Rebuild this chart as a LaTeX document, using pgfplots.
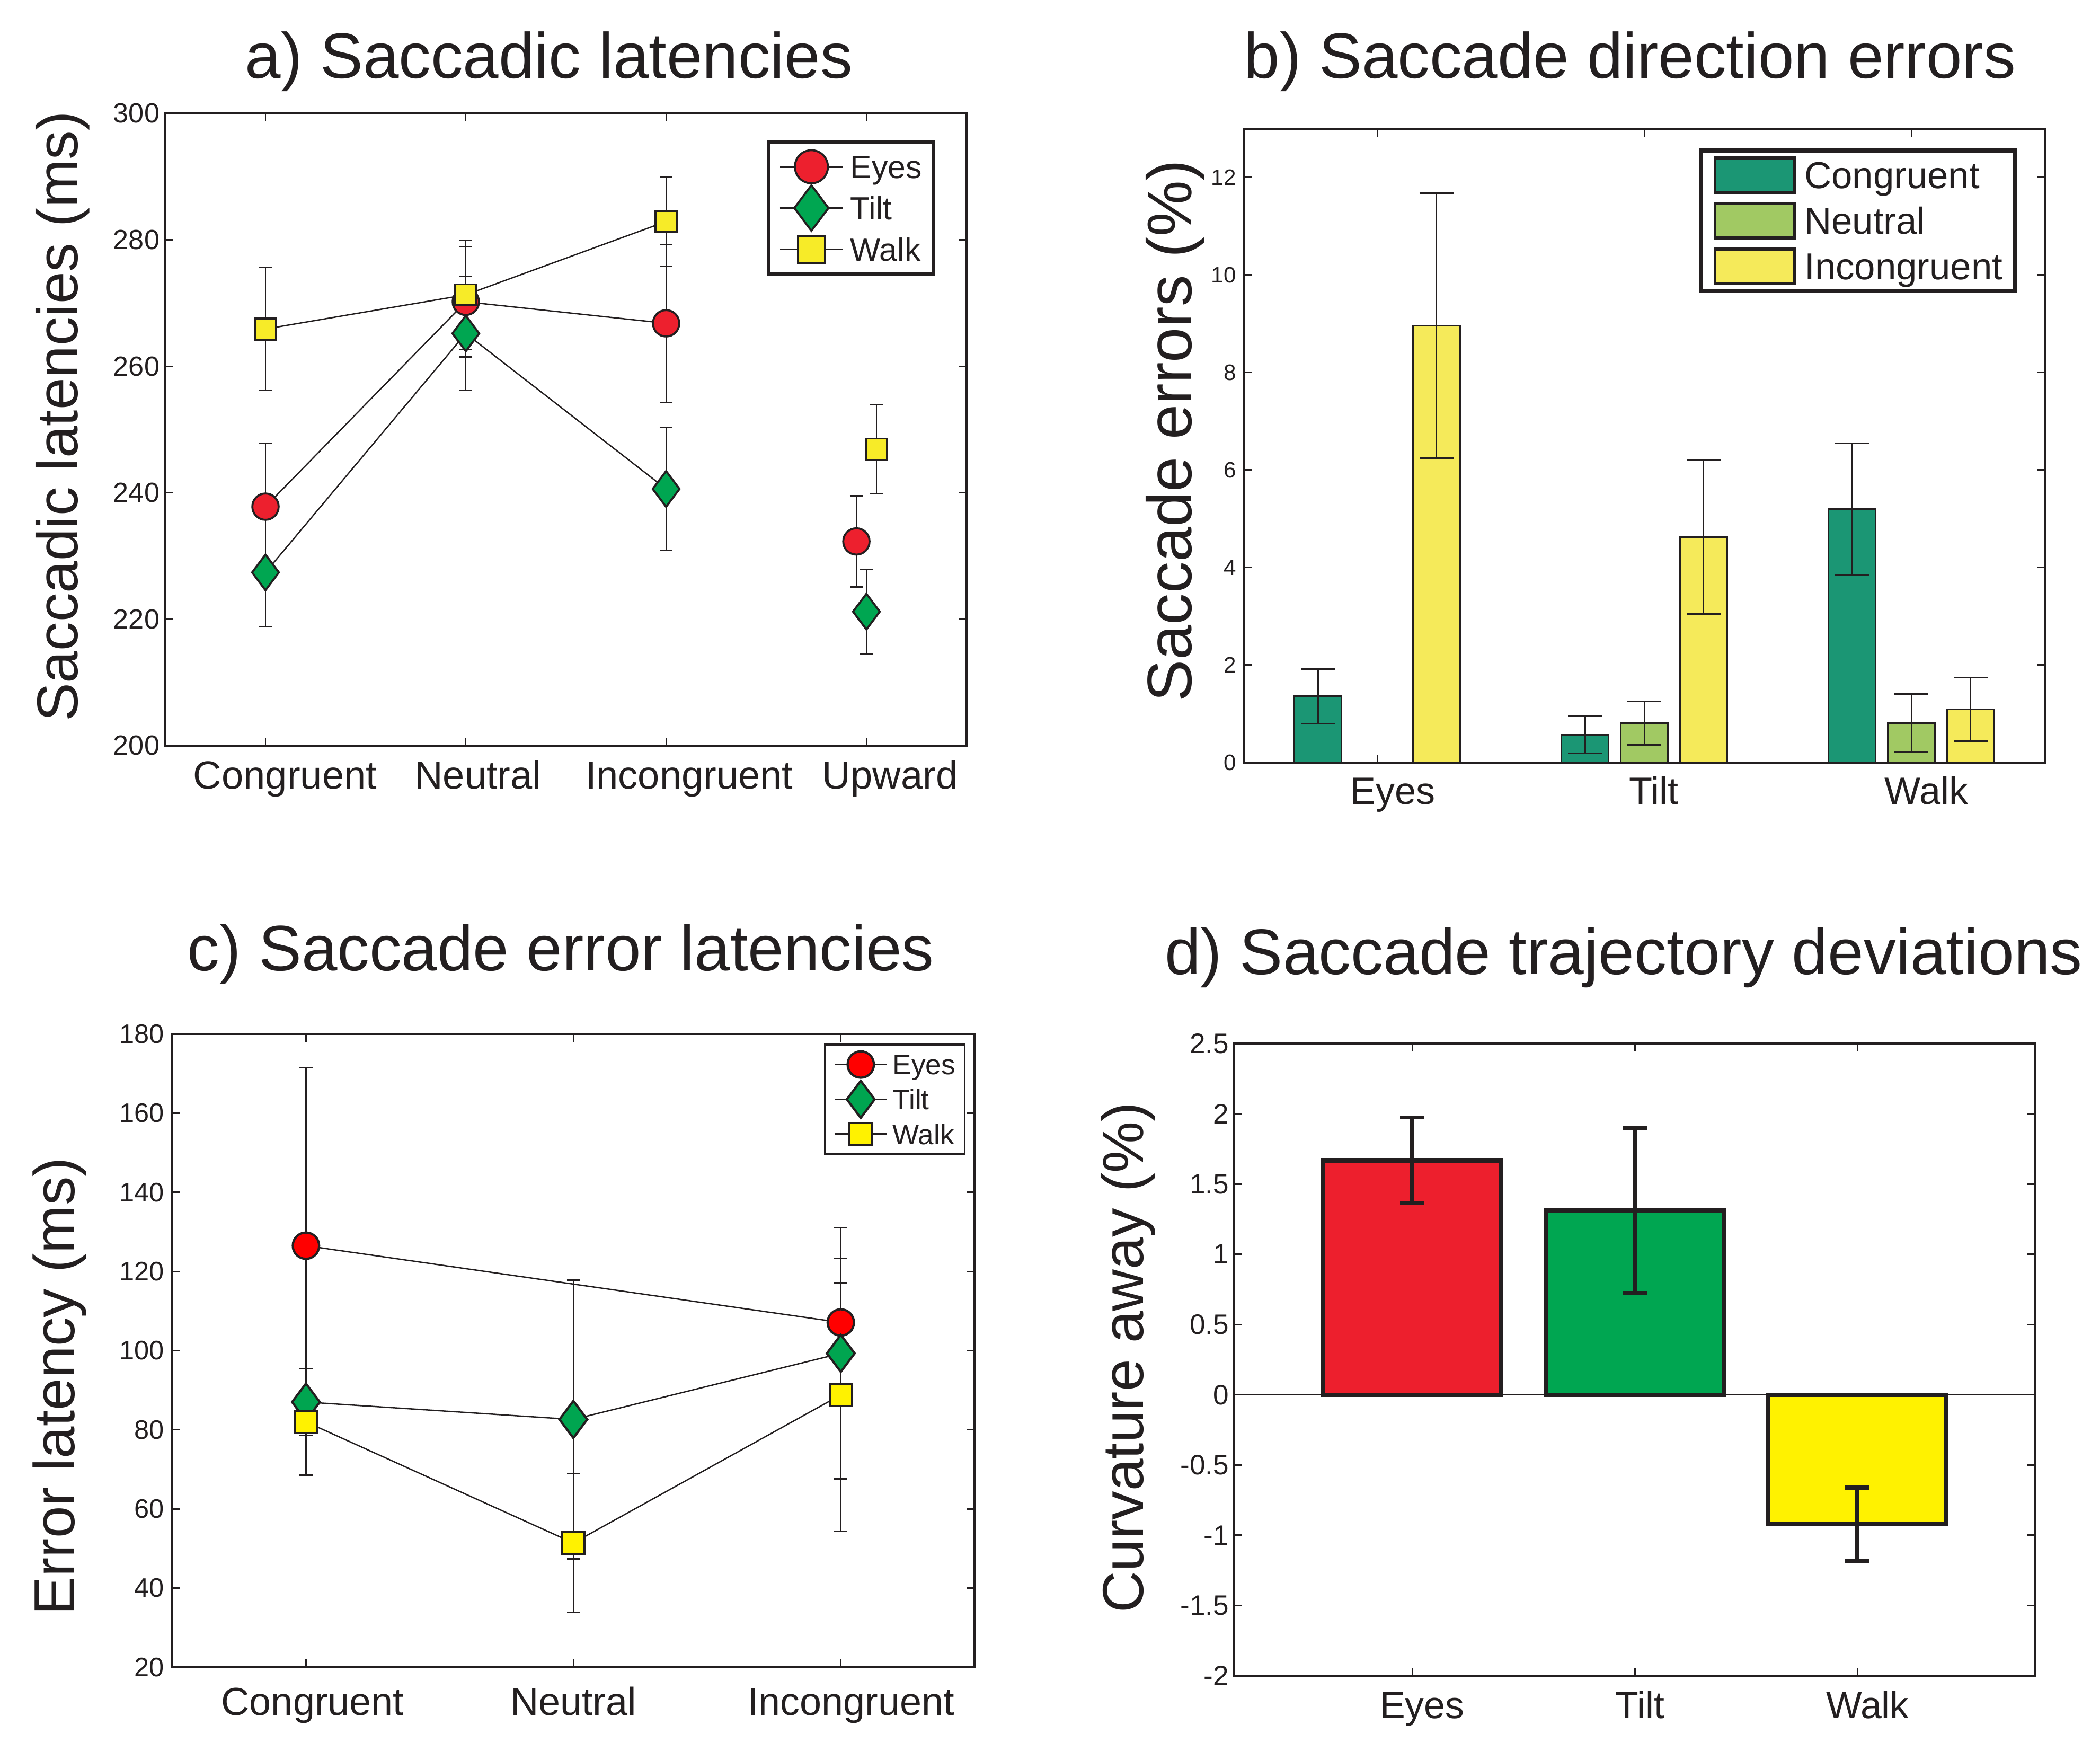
\documentclass[border=0pt]{standalone}
\usepackage{fontspec}
\setmainfont{Liberation Sans}
\usepackage{pgfplots}
\pgfplotsset{compat=1.18}

\definecolor{txt}{RGB}{35,31,32}
\definecolor{aRed}{RGB}{237,32,46}
\definecolor{aGreen}{RGB}{0,166,81}
\definecolor{aYellow}{RGB}{247,235,40}
\definecolor{cRed}{RGB}{255,0,0}
\definecolor{cGreen}{RGB}{0,165,80}
\definecolor{cYellow}{RGB}{255,242,0}
\definecolor{bCong}{RGB}{27,150,116}
\definecolor{bNeut}{RGB}{161,201,99}
\definecolor{bInc}{RGB}{245,234,90}
\definecolor{dRed}{RGB}{237,31,45}
\definecolor{dGreen}{RGB}{0,166,81}
\definecolor{dYellow}{RGB}{255,242,0}

\pgfplotsset{
  myaxis/.style={
    scale only axis, anchor=south west,
    axis line style={line width=0.4pt, txt},
    every tick/.style={txt, line width=0.35pt},
    major tick length=1.8pt,
    tick align=inside,
    minor tick num=0,
    /pgf/number format/assume math mode=true,
    yticklabel style={anchor=east, inner sep=0pt, text=txt},
    xticklabel style={anchor=base, inner sep=0pt, text=txt},
  },
  legA/.style={legend image code/.code={\draw[mark repeat=2, mark phase=2, ##1, overlay, line width=0.45pt, mark size=#1] plot coordinates {(0pt,0pt) (7.05pt,0pt) (14.1pt,0pt)}; \path[draw=none, fill=none] (0pt,-3.5pt) rectangle (14.1pt,3.5pt);}},
  legC/.style={legend image code/.code={\draw[mark repeat=2, mark phase=2, ##1, overlay, line width=0.4pt] plot coordinates {(0pt,0pt) (5.875pt,0pt) (11.75pt,0pt)}; \path[draw=none, fill=none] (0pt,-2.5pt) rectangle (11.75pt,2.5pt);}},
  legB/.style={legend image code/.code={\draw[fill=#1, draw=txt, line width=0.7pt] (0pt,-3.85pt) rectangle (17.9pt,3.85pt);}},
  ebA/.style={error bars/.cd, y dir=both, y explicit, error bar style={line width=0.3pt, txt},
    error mark options={rotate=90, mark size=1.45pt, line width=0.3pt, txt}},
  ebB/.style={error bars/.cd, y dir=both, y explicit, error bar style={line width=0.35pt, txt},
    error mark options={rotate=90, mark size=3.8pt, line width=0.35pt, txt}},
  ebD/.style={error bars/.cd, y dir=both, y explicit, error bar style={line width=0.9pt, txt},
    error mark options={rotate=90, mark size=2.7pt, line width=0.9pt, txt}},
}

\begin{document}
\begin{tikzpicture}
\useasboundingbox (0,0) rectangle (470.45pt,392.22pt);

% ---------------- a) Saccadic latencies ----------------
\begin{axis}[myaxis, at={(37.04pt,225.19pt)}, width=179.49pt, height=141.62pt,
  xmin=0.5, xmax=4.5, ymin=200, ymax=300,
  xtick={1,2,3,4},
  xticklabels={\hspace*{0.2pt}Congruent,\hspace*{-3.2pt}Neutral,\hspace*{1.8pt}Incongruent,\hspace*{2pt}Upward},
  ytick={200,220,...,300},
  xticklabel style={font=\fontsize{8.8}{10}\selectfont, yshift=-9.73pt, xshift=4.3pt},
  yticklabel style={font=\fontsize{6.2}{7}\selectfont, xshift=-1.1pt},
  legend style={at={(0.961,0.958)}, anchor=north east, draw=txt, line width=0.8pt, fill=white,
    inner xsep=2.6pt, inner ysep=2.1pt, row sep=2.25pt, column sep=1.7pt,
    font=\fontsize{7.2}{8}\selectfont, nodes={inner sep=0pt, text height=5.15pt, text depth=0pt, text=txt}},
  legend cell align=left,
]
\addplot[txt, line width=0.3pt, mark=*, mark size=2.95pt,
  mark options={fill=aRed, draw=txt, line width=0.45pt}, legA=3.7pt, ebA]
  coordinates {(1,237.8) +- (0,10) (2,270.2) +- (0,8.7) (3,266.8) +- (0,12.5)};
\addlegendentry{Eyes}
\addplot[txt, line width=0.3pt, mark=diamond*, mark size=4pt,
  mark options={fill=aGreen, draw=txt, line width=0.45pt}, legA=5.1pt, ebA]
  coordinates {(1,227.4) +- (0,8.6) (2,265.2) +- (0,9.0) (3,240.6) +- (0,9.7)};
\addlegendentry{Tilt}
\addplot[txt, line width=0.3pt, mark=square*, mark size=2.37pt,
  mark options={fill=aYellow, draw=txt, line width=0.45pt}, legA=3.0pt, ebA]
  coordinates {(1,265.9) +- (0,9.7) (2,271.3) +- (0,8.6) (3,282.9) +- (0,7.1)};
\addlegendentry{Walk}
% Upward (not connected)
\addplot[forget plot, only marks, mark=*, mark size=2.95pt,
  mark options={fill=aRed, draw=txt, line width=0.45pt}, ebA]
  coordinates {(3.95,232.3) +- (0,7.2)};
\addplot[forget plot, only marks, mark=diamond*, mark size=4pt,
  mark options={fill=aGreen, draw=txt, line width=0.45pt}, ebA]
  coordinates {(4.0,221.2) +- (0,6.7)};
\addplot[forget plot, only marks, mark=square*, mark size=2.37pt,
  mark options={fill=aYellow, draw=txt, line width=0.45pt}, ebA]
  coordinates {(4.05,246.9) +- (0,7.0)};
\end{axis}

% ---------------- b) Saccade direction errors ----------------
\begin{axis}[myaxis, at={(278.61pt,221.40pt)}, width=179.49pt, height=141.98pt,
  xmin=0.5, xmax=3.5, ymin=0, ymax=13,
  xtick={1,2,3}, xticklabels={\hspace*{1pt}Eyes,\hspace*{-1.8pt}Tilt,\hspace*{0.8pt}Walk},
  ytick={0,2,...,12},
  xticklabel style={font=\fontsize{8.55}{10}\selectfont, yshift=-9.38pt, xshift=3pt},
  yticklabel style={font=\fontsize{5.0}{6}\selectfont, xshift=-1.5pt},
  legend style={at={(0.965,0.969)}, anchor=north east, draw=txt, line width=0.9pt, fill=white,
    inner xsep=2.75pt, inner ysep=1.35pt, row sep=1.8pt, column sep=1.8pt,
    font=\fontsize{8.4}{10}\selectfont, nodes={inner sep=0pt, text height=6pt, text depth=0pt, text=txt}},
  legend cell align=left,
]
\addplot[ybar, bar width=0.176, bar shift=0pt, fill=bCong, draw=txt, line width=0.4pt, legB=bCong, ebB]
  coordinates {(0.778,1.36) +- (0,0.56) (1.778,0.57) +- (0,0.38) (2.778,5.20) +- (0,1.35)};
\addlegendentry{Congruent}
\addplot[ybar, bar width=0.176, bar shift=0pt, fill=bNeut, draw=txt, line width=0.4pt, legB=bNeut, ebB]
  coordinates {(2,0.81) +- (0,0.45) (3,0.81) +- (0,0.60)};
\addlegendentry{Neutral}
\addplot[ybar, bar width=0.176, bar shift=0pt, fill=bInc, draw=txt, line width=0.4pt, legB=bInc, ebB]
  coordinates {(1.222,8.96) +- (0,2.72) (2.222,4.63) +- (0,1.58) (3.222,1.09) +- (0,0.65)};
\addlegendentry{Incongruent}
\end{axis}

% ---------------- c) Saccade error latencies ----------------
\begin{axis}[myaxis, at={(38.58pt,18.76pt)}, width=179.73pt, height=141.86pt,
  xmin=0.5, xmax=3.5, ymin=20, ymax=180,
  xtick={1,2,3}, xticklabels={\hspace*{0.4pt}Congruent,\hspace*{-2.6pt}Neutral,\hspace*{2pt}Incongruent},
  ytick={20,40,...,180},
  xticklabel style={font=\fontsize{8.76}{10}\selectfont, yshift=-10.8pt, xshift=1.3pt},
  yticklabel style={font=\fontsize{6.0}{7}\selectfont, xshift=-1.6pt},
  legend style={at={(0.989,0.985)}, anchor=north east, draw=txt, line width=0.45pt, fill=white,
    inner xsep=2.1pt, inner ysep=2pt, row sep=2.8pt, column sep=1.3pt,
    font=\fontsize{6.3}{7}\selectfont, nodes={inner sep=0pt, text height=4.5pt, text depth=0pt, text=txt}},
  legend cell align=left,
]
\addplot[txt, line width=0.3pt, mark=*, mark size=2.95pt,
  mark options={fill=cRed, draw=txt, line width=0.5pt}, legC, ebA]
  coordinates {(1,126.5) +- (0,44.9) (3,107.1) +- (0,10.0)};
\addlegendentry{Eyes}
\addplot[txt, line width=0.3pt, mark=diamond*, mark size=4.15pt,
  mark options={fill=cGreen, draw=txt, line width=0.5pt}, legC, ebA]
  coordinates {(1,87.0) +- (0,8.4) (2,82.6) +- (0,35.2) (3,99.3) +- (0,31.7)};
\addlegendentry{Tilt}
\addplot[txt, line width=0.3pt, mark=square*, mark size=2.5pt,
  mark options={fill=cYellow, draw=txt, line width=0.5pt}, legC, ebA]
  coordinates {(1,82.0) +- (0,13.5) (2,51.4) +- (0,17.5) (3,88.8) +- (0,34.5)};
\addlegendentry{Walk}
\end{axis}

% ---------------- d) Saccade trajectory deviations ----------------
\begin{axis}[myaxis, at={(276.48pt,16.86pt)}, width=179.49pt, height=141.62pt,
  xmin=0.2, xmax=3.8, ymin=-2, ymax=2.5,
  xtick={1,2,3}, xticklabels={\hspace*{0.6pt}Eyes,\hspace*{-1.4pt}Tilt,\hspace*{0.8pt}Walk},
  ytick={-2,-1.5,-1,-0.5,0,0.5,1,1.5,2,2.5},
  yticklabels={-2,-1.5,-1,-0.5,0,0.5,1,1.5,2,2.5},
  xticklabel style={font=\fontsize{8.5}{10}\selectfont, yshift=-9.6pt, xshift=1.9pt},
  yticklabel style={font=\fontsize{6.3}{7}\selectfont, xshift=-1pt},
]
\addplot[forget plot, txt, line width=0.4pt] coordinates {(0.2,0) (3.8,0)};
\addplot[ybar, bar width=0.8, bar shift=0pt, fill=dRed, draw=txt, line width=1pt, ebD]
  coordinates {(1,1.668) +- (0,0.305)};
\addplot[ybar, bar width=0.8, bar shift=0pt, fill=dGreen, draw=txt, line width=1pt, ebD]
  coordinates {(2,1.31) +- (0,0.587)};
\addplot[ybar, bar width=0.8, bar shift=0pt, fill=dYellow, draw=txt, line width=1pt, ebD]
  coordinates {(3,-0.922) +- (0,0.26)};
\end{axis}

% ---------------- titles and axis labels ----------------
\begin{scope}[every node/.style={inner sep=0pt, text=txt}]
\node[anchor=base, font=\fontsize{14.4}{17}\selectfont] at (122.98pt,374.65pt) {a) Saccadic latencies};
\node[anchor=base, font=\fontsize{14.4}{17}\selectfont] at (365.15pt,374.65pt) {b) Saccade direction errors};
\node[anchor=base, font=\fontsize{14.4}{17}\selectfont] at (125.60pt,174.74pt) {c) Saccade error latencies};
\node[anchor=base, font=\fontsize{14.45}{17}\selectfont] at (363.73pt,173.91pt) {d) Saccade trajectory deviations};
\node[rotate=90, anchor=center, font=\fontsize{12.95}{15}\selectfont] at (14.01pt,298.91pt) {Saccadic latencies (ms)};
\node[rotate=90, anchor=center, font=\fontsize{14.1}{17}\selectfont] at (263.3pt,295.7pt) {Saccade errors (\%)};
\node[rotate=90, anchor=center, font=\fontsize{12.9}{15}\selectfont] at (13.30pt,81.67pt) {Error latency (ms)};
\node[rotate=90, anchor=center, font=\fontsize{12.95}{15}\selectfont] at (252.74pt,88.08pt) {Curvature away (\%)};
\end{scope}
\end{tikzpicture}
\end{document}
